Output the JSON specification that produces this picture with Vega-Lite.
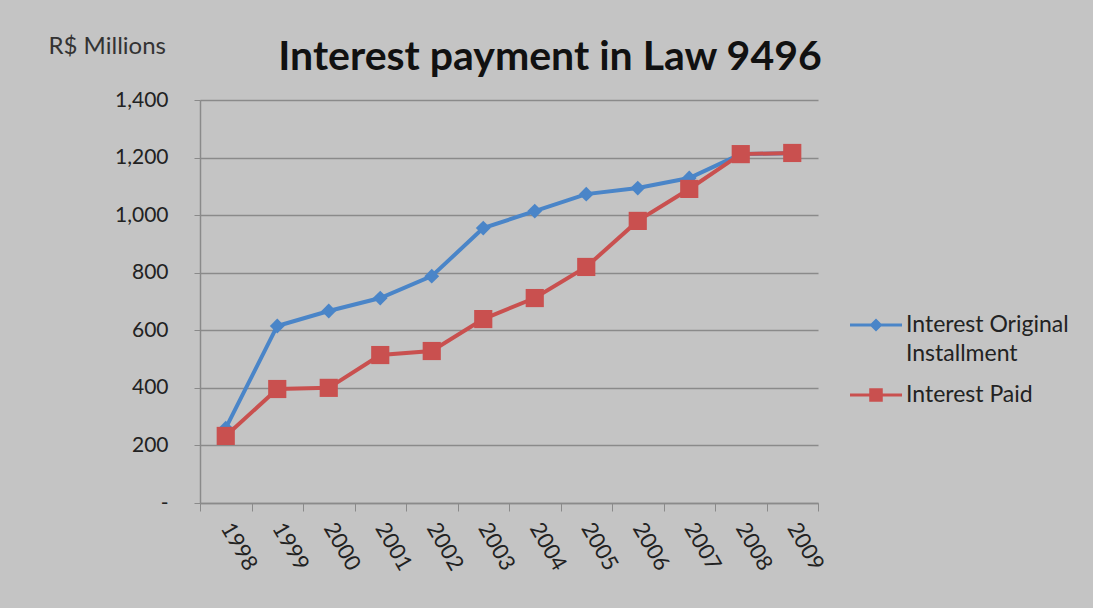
{
  "$schema": "https://vega.github.io/schema/vega-lite/v6.json",
  "width": 618,
  "height": 403,
  "autosize": {"type": "none"},
  "padding": {"left": 200, "top": 100, "right": 275, "bottom": 105},
  "background": "#c4c4c4",
  "title": {
    "text": "Interest payment in Law 9496",
    "font": "Lato",
    "fontSize": 41,
    "fontWeight": "bold",
    "color": "#111111",
    "anchor": "middle",
    "dx": 41,
    "offset": -45
  },
  "config": {
    "view": {"stroke": null},
    "font": "Lato"
  },
  "data": {
    "values": [
      {"year": "1998", "series": "Interest Original Installment", "value": 260},
      {"year": "1999", "series": "Interest Original Installment", "value": 615},
      {"year": "2000", "series": "Interest Original Installment", "value": 667},
      {"year": "2001", "series": "Interest Original Installment", "value": 712},
      {"year": "2002", "series": "Interest Original Installment", "value": 788},
      {"year": "2003", "series": "Interest Original Installment", "value": 955},
      {"year": "2004", "series": "Interest Original Installment", "value": 1014},
      {"year": "2005", "series": "Interest Original Installment", "value": 1073},
      {"year": "2006", "series": "Interest Original Installment", "value": 1094},
      {"year": "2007", "series": "Interest Original Installment", "value": 1129},
      {"year": "2008", "series": "Interest Original Installment", "value": 1212},
      {"year": "2009", "series": "Interest Original Installment", "value": 1215},
      {"year": "1998", "series": "Interest Paid", "value": 233},
      {"year": "1999", "series": "Interest Paid", "value": 396},
      {"year": "2000", "series": "Interest Paid", "value": 400},
      {"year": "2001", "series": "Interest Paid", "value": 514},
      {"year": "2002", "series": "Interest Paid", "value": 528},
      {"year": "2003", "series": "Interest Paid", "value": 639},
      {"year": "2004", "series": "Interest Paid", "value": 712},
      {"year": "2005", "series": "Interest Paid", "value": 820},
      {"year": "2006", "series": "Interest Paid", "value": 980},
      {"year": "2007", "series": "Interest Paid", "value": 1091},
      {"year": "2008", "series": "Interest Paid", "value": 1212},
      {"year": "2009", "series": "Interest Paid", "value": 1216}
    ]
  },
  "encoding": {
    "x": {
      "field": "year",
      "type": "ordinal",
      "scale": {"type": "band", "paddingInner": 0, "paddingOuter": 0},
      "axis": {
        "title": null,
        "labelAngle": 60,
        "labelFontSize": 22,
        "labelColor": "#222222",
        "labelPadding": 13,
        "tickBand": "extent",
        "tickSize": 8,
        "tickColor": "#8a8a8a",
        "domainColor": "#8a8a8a",
        "domainWidth": 1.5,
        "grid": false
      }
    },
    "y": {
      "field": "value",
      "type": "quantitative",
      "scale": {"domain": [0, 1400], "nice": false},
      "axis": {
        "values": [0, 200, 400, 600, 800, 1000, 1200, 1400],
        "labelExpr": "datum.value == 0 ? '-' : format(datum.value, ',')",
        "labelFontSize": 21,
        "labelColor": "#222222",
        "labelPadding": 26,
        "tickSize": 6,
        "tickColor": "#8a8a8a",
        "domainColor": "#8a8a8a",
        "domainWidth": 1.5,
        "grid": true,
        "gridColor": "#8a8a8a",
        "gridWidth": 1.5,
        "title": "R$ Millions",
        "titleAngle": 0,
        "titleFontSize": 24,
        "titleFontWeight": "normal",
        "titleColor": "#333333",
        "titleAlign": "left",
        "titleBaseline": "middle",
        "titleX": -152,
        "titleY": -54
      }
    },
    "color": {
      "field": "series",
      "type": "nominal",
      "scale": {
        "domain": ["Interest Original Installment", "Interest Paid"],
        "range": ["#4a85c8", "#c9504f"]
      },
      "legend": {
        "title": null,
        "orient": "none",
        "legendX": 650,
        "legendY": 199,
        "labelFontSize": 23,
        "labelColor": "#222222",
        "labelOffset": 4,
        "labelLimit": 400,
        "rowPadding": 3,
        "symbolSize": 2704,
        "labelExpr": "datum.label == 'Interest Original Installment' ? ['Interest Original', 'Installment'] : datum.label",
        "encode": {
          "labels": {
            "update": {
              "lineHeight": {"value": 29}
            }
          },
          "symbols": {
            "update": {
              "shape": {"signal": "datum.value == 'Interest Paid' ? 'M-1,-0.06H1V0.06H-1Z M-0.26,-0.26H0.26V0.26H-0.26Z' : 'M-1,-0.06H1V0.06H-1Z M0,-0.25L0.25,0L0,0.25L-0.25,0Z'"},
              "fill": {"signal": "datum.value == 'Interest Paid' ? '#c9504f' : '#4a85c8'"},
              "strokeWidth": {"value": 0},
              "fillOpacity": {"value": 1},
              "opacity": {"value": 1}
            }
          }
        }
      }
    }
  },
  "layer": [
    {
      "mark": {"type": "line", "strokeWidth": 4}
    },
    {
      "transform": [{"filter": "datum.series == 'Interest Original Installment'"}],
      "mark": {"type": "point", "filled": true, "opacity": 1, "shape": "diamond", "size": 220}
    },
    {
      "transform": [{"filter": "datum.series == 'Interest Paid'"}],
      "mark": {"type": "point", "filled": true, "opacity": 1, "shape": "square", "size": 330}
    }
  ]
}
